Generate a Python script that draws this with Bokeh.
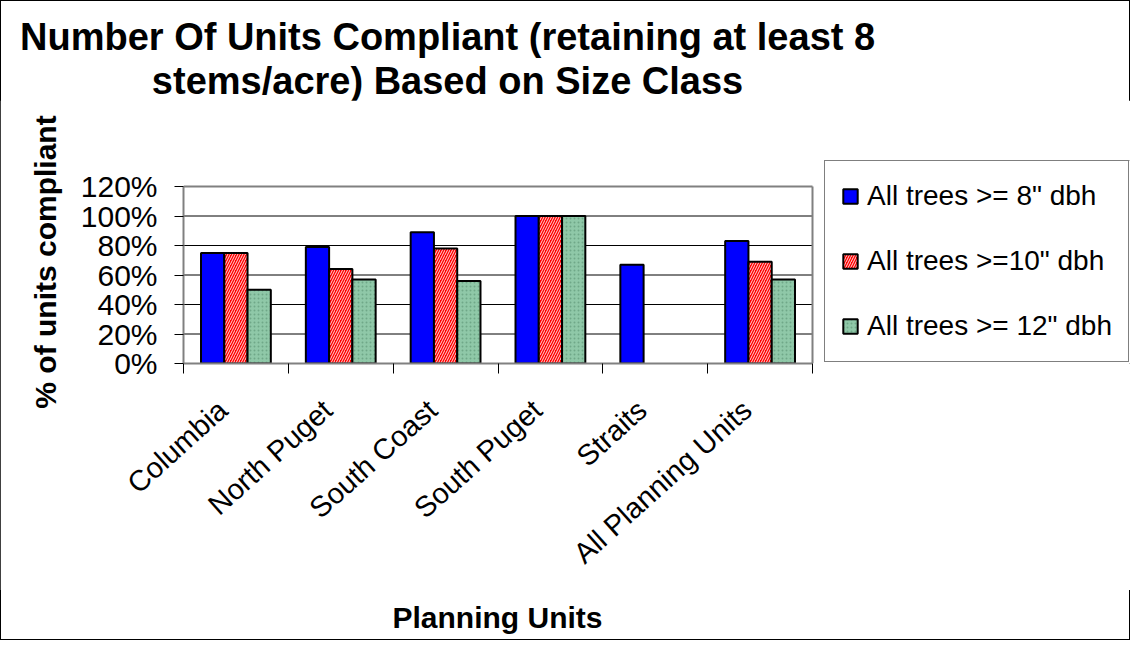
from bokeh.plotting import figure
from bokeh.layouts import column
from bokeh.models import (Range1d, FixedTicker, PrintfTickFormatter, Legend, LegendItem, Div,
                          ColumnDataSource)
from bokeh.transform import dodge
from bokeh.embed import file_html
from bokeh.resources import INLINE

# ---- data ----
categories = ["Columbia", "North Puget", "South Coast", "South Puget", "Straits", "All Planning Units"]
trees_8 = [75, 79, 89, 100, 67, 83]
trees_10 = [75, 64, 78, 100, None, 69]
trees_12 = [50, 57, 56, 100, None, 57]
series_labels = ['All trees >= 8" dbh', 'All trees >=10" dbh', 'All trees >= 12" dbh']
y_ticks = [0, 20, 40, 60, 80, 100, 120]
title_lines = ["Number Of Units Compliant (retaining at least 8", "stems/acre) Based on Size Class"]
x_title = "Planning Units"
y_title = "% of units compliant"

FONT = "Liberation Sans"

# ---- layout (page pixels) ----
W, H = 1130, 640
TITLE_H, XLAB_H = 100, 50
PLOT_L, PLOT_R, PLOT_T, PLOT_B = 183, 812, 186, 363   # data area
FRAME_T = 160                                          # frame extends up/right to hold the legend
N = len(categories)
Y_MAX = y_ticks[-1]
X_END = N * (W - PLOT_L) / (PLOT_R - PLOT_L)
Y_END = Y_MAX * (PLOT_B - FRAME_T) / (PLOT_B - PLOT_T)

centers = [i + 0.5 for i in range(N)]
label_pos = [c - 0.125 for c in centers]
bounds = list(range(N + 1))
src = ColumnDataSource(dict(x=centers, cat=categories,
                            s8=[float("nan") if v is None else v for v in trees_8],
                            s10=[float("nan") if v is None else v for v in trees_10],
                            s12=[float("nan") if v is None else v for v in trees_12]))

title_div = Div(text=('<div style="padding-top:15px;padding-left:20px;text-align:center;'
                      'font-family:\'Liberation Sans\';font-weight:bold;font-size:38px;'
                      'line-height:44px;color:black">'
                      + "<br>".join(title_lines) + "</div>"),
                width=W, height=TITLE_H, margin=0)

fig_h = H - TITLE_H - XLAB_H
p = figure(x_range=Range1d(0, X_END), y_range=Range1d(0, Y_END),
           width=W, height=fig_h, output_backend="svg", toolbar_location=None,
           min_border_left=PLOT_L, min_border_right=0,
           min_border_top=FRAME_T - TITLE_H, min_border_bottom=TITLE_H + fig_h - PLOT_B,
           background_fill_color="white", border_fill_color="white", margin=0)
p.outline_line_color = None
p.xgrid.visible = False
p.ygrid.visible = False

# horizontal grid lines across the data area only
grid_y = y_ticks[1:-1]
p.segment(x0=[0] * len(grid_y), x1=[N] * len(grid_y), y0=grid_y, y1=grid_y,
          line_color="black", line_width=1)
# plot-area border (top and right), gray
p.segment(x0=[0, N], x1=[N, N], y0=[Y_MAX, 0], y1=[Y_MAX, Y_MAX],
          line_color="#808080", line_width=2)

ya = p.yaxis[0]
ya.bounds = (0, Y_MAX)
ya.ticker = FixedTicker(ticks=y_ticks)
ya.formatter = PrintfTickFormatter(format="%d%%")
ya.major_label_text_font = FONT
ya.major_label_text_font_size = "30px"
ya.major_label_text_color = "black"
ya.major_label_standoff = 17
ya.major_tick_out = 9
ya.major_tick_in = 0
ya.minor_tick_line_color = None
ya.axis_line_color = "#808080"
ya.axis_line_width = 2
ya.major_tick_line_color = "black"
ya.axis_label = y_title
ya.axis_label_text_font = FONT
ya.axis_label_text_font_style = "bold"
ya.axis_label_text_font_size = "30px"
ya.axis_label_text_color = "black"
ya.axis_label_standoff = 16

xa = p.xaxis[0]
xa.bounds = (0, N)
xa.ticker = FixedTicker(ticks=label_pos, minor_ticks=bounds)
xa.major_label_overrides = {c: name for c, name in zip(label_pos, categories)}
xa.major_tick_line_color = None
xa.major_tick_out = 0
xa.major_tick_in = 0
xa.minor_tick_out = 10
xa.minor_tick_in = 0
xa.minor_tick_line_color = "black"
xa.axis_line_color = "#808080"
xa.axis_line_width = 2
xa.major_label_orientation = 0.733
xa.major_label_text_font = FONT
xa.major_label_text_font_size = "29px"
xa.major_label_text_color = "black"
xa.major_label_standoff = 32

w = 0.222
r1 = p.vbar(x=dodge("x", -w), top="s8", width=w, source=src,
            fill_color="#0000FF", line_color="black", line_width=2)
r2 = p.vbar(x=dodge("x", 0), top="s10", width=w, source=src,
            fill_color="#FF0000", line_color="black", line_width=2,
            hatch_pattern="right_diagonal_line", hatch_color="white", hatch_alpha=0.85,
            hatch_scale=5, hatch_weight=1)
r3 = p.vbar(x=dodge("x", w), top="s12", width=w, source=src,
            fill_color="#8FC8A8", line_color="black", line_width=2,
            hatch_pattern="dot", hatch_color="#6FA888", hatch_scale=4, hatch_weight=1)

legend = Legend(items=[LegendItem(label=series_labels[0], renderers=[r1]),
                       LegendItem(label=series_labels[1], renderers=[r2]),
                       LegendItem(label=series_labels[2], renderers=[r3])],
                location=(824 - PLOT_L, 1), ncols=1, label_text_font=FONT,
                label_text_font_size="28px", label_text_color="black", glyph_width=18,
                glyph_height=18, label_height=38, label_standoff=8, spacing=27, padding=16,
                margin=0, border_line_color="black", border_line_width=1,
                background_fill_alpha=1, background_fill_color="white")
p.add_layout(legend, "center")

xlab_div = Div(text=('<div style="margin-left:%dpx;width:%dpx;padding-top:10px;text-align:center;'
                     'font-family:\'Liberation Sans\';font-weight:bold;font-size:30px;'
                     'line-height:36px;color:black">%s</div>') % (PLOT_L, PLOT_R - PLOT_L, x_title),
               width=W, height=XLAB_H, margin=0)

page = column(title_div, p, xlab_div, spacing=0,
              styles={"outline": "1px solid black", "outline-offset": "-1px",
                      "background-color": "white"})

open("out.html", "w").write(file_html(page, INLINE))
